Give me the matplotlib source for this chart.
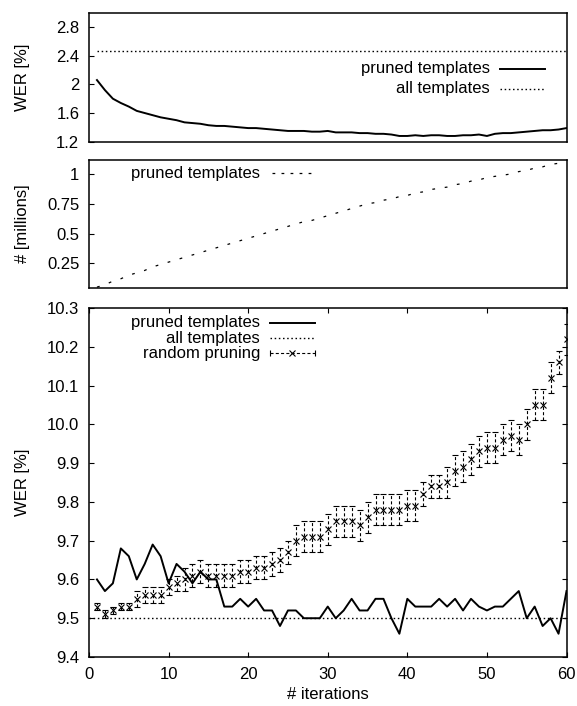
import matplotlib
matplotlib.use("Agg")
import matplotlib.pyplot as plt
from matplotlib.lines import Line2D
import numpy as np

plt.rcParams['font.family'] = ['Liberation Sans', 'DejaVu Sans']
plt.rcParams['lines.scale_dashes'] = False

iterations = list(range(1, 61))

# top panel: WER of pruned templates (dev)
top_pruned = [2.06, 1.92, 1.80, 1.74, 1.69, 1.63, 1.60, 1.57, 1.54, 1.52,
              1.50, 1.47, 1.46, 1.45, 1.43, 1.42, 1.42, 1.41, 1.40, 1.39,
              1.39, 1.38, 1.37, 1.36, 1.35, 1.35, 1.35, 1.34, 1.34, 1.35,
              1.33, 1.33, 1.33, 1.32, 1.32, 1.31, 1.31, 1.30, 1.28, 1.28,
              1.29, 1.28, 1.29, 1.29, 1.28, 1.28, 1.29, 1.29, 1.30, 1.28,
              1.31, 1.32, 1.32, 1.33, 1.34, 1.35, 1.36, 1.36, 1.37, 1.39]
top_all = 2.46

# middle panel: number of templates [millions]
n_templates = [0.05, 0.07, 0.10, 0.12, 0.15, 0.17, 0.19, 0.22, 0.24, 0.26,
               0.28, 0.30, 0.32, 0.34, 0.36, 0.38, 0.40, 0.42, 0.44, 0.46,
               0.48, 0.50, 0.52, 0.54, 0.56, 0.58, 0.60, 0.61, 0.63, 0.65,
               0.67, 0.69, 0.71, 0.73, 0.75, 0.76, 0.78, 0.79, 0.81, 0.82,
               0.84, 0.85, 0.87, 0.88, 0.89, 0.91, 0.92, 0.94, 0.95, 0.97,
               0.98, 0.99, 1.00, 1.02, 1.03, 1.05, 1.06, 1.08, 1.09, 1.11]

# bottom panel: WER (test)
bot_pruned = [9.60, 9.57, 9.59, 9.68, 9.66, 9.60, 9.64, 9.69, 9.66, 9.59,
              9.64, 9.62, 9.59, 9.62, 9.60, 9.60, 9.53, 9.53, 9.55, 9.53,
              9.55, 9.52, 9.52, 9.48, 9.52, 9.52, 9.50, 9.50, 9.50, 9.53,
              9.50, 9.52, 9.55, 9.52, 9.52, 9.55, 9.55, 9.50, 9.46, 9.55,
              9.53, 9.53, 9.53, 9.55, 9.53, 9.55, 9.52, 9.55, 9.53, 9.52,
              9.53, 9.53, 9.55, 9.57, 9.50, 9.53, 9.48, 9.50, 9.46, 9.57]
bot_all = 9.50
random_mean = [9.53, 9.51, 9.52, 9.53, 9.53, 9.55, 9.56, 9.56, 9.56, 9.58,
               9.59, 9.60, 9.61, 9.62, 9.61, 9.61, 9.61, 9.61, 9.62, 9.62,
               9.63, 9.63, 9.64, 9.65, 9.67, 9.70, 9.71, 9.71, 9.71, 9.73,
               9.75, 9.75, 9.75, 9.74, 9.76, 9.78, 9.78, 9.78, 9.78, 9.79,
               9.79, 9.82, 9.84, 9.84, 9.85, 9.88, 9.89, 9.91, 9.93, 9.94,
               9.94, 9.96, 9.97, 9.96, 10.00, 10.05, 10.05, 10.12, 10.16, 10.22]
random_err = [0.01, 0.01, 0.01, 0.01, 0.01, 0.02, 0.02, 0.02, 0.02, 0.02,
              0.02, 0.03, 0.03, 0.03, 0.03, 0.03, 0.03, 0.03, 0.03, 0.03,
              0.03, 0.03, 0.03, 0.03, 0.03, 0.04, 0.04, 0.04, 0.04, 0.04,
              0.04, 0.04, 0.04, 0.04, 0.04, 0.04, 0.04, 0.04, 0.04, 0.04,
              0.04, 0.03, 0.03, 0.03, 0.04, 0.04, 0.04, 0.04, 0.04, 0.04,
              0.04, 0.04, 0.04, 0.04, 0.04, 0.04, 0.04, 0.04, 0.03, 0.04]

top_yticks = [1.2, 1.6, 2.0, 2.4, 2.8]
top_ylabels = ['1.2', '1.6', '2', '2.4', '2.8']
mid_yticks = [0.25, 0.5, 0.75, 1.0]
mid_ylabels = ['0.25', '0.5', '0.75', '1']
bot_yticks = [9.4, 9.5, 9.6, 9.7, 9.8, 9.9, 10.0, 10.1, 10.2, 10.3]
bot_ylabels = ['9.4', '9.5', '9.6', '9.7', '9.8', '9.9', '10.0', '10.1', '10.2', '10.3']
bot_xticks = [0, 10, 20, 30, 40, 50, 60]

W, H = 577, 706
fig = plt.figure(figsize=(W / 100, H / 100), dpi=100)
left = 89 / W
width = (566.5 - 89) / W

def ax_at(top_px, bot_px):
    return fig.add_axes([left, 1 - bot_px / H, width, (bot_px - top_px) / H])

ax1 = ax_at(12.7, 141.7)
ax2 = ax_at(159.7, 287.7)
ax3 = ax_at(308, 657)

FS = 12
dotted = (0, (1.1, 1.9))
for ax in (ax1, ax2, ax3):
    for s in ax.spines.values():
        s.set_linewidth(1.1)
    ax.set_xlim(0, 60)
    ax.tick_params(direction='in', length=3.6, width=0.8, labelsize=FS, pad=7)

# top panel
ax1.plot(iterations, top_pruned, color='black', lw=1.4)
ax1.axhline(top_all, color='black', lw=1.0, linestyle=dotted,
            xmin=1 / 60, xmax=1.0)
ax1.set_ylim(1.2, 3.0)
ax1.set_yticks(top_yticks)
ax1.set_yticklabels(top_ylabels)
ax1.set_xticks([])
ax1.set_ylabel('WER [%]', fontsize=FS)
ax1.yaxis.set_label_coords(-0.124, 0.5)
# legend (gnuplot style: right-aligned text, sample to right)
ax1.text(0.84, 0.564, 'pruned templates', transform=ax1.transAxes,
         ha='right', va='center', fontsize=FS)
ax1.add_line(Line2D([0.861, 0.955], [0.564, 0.564], transform=ax1.transAxes,
                    color='black', lw=1.4))
ax1.text(0.84, 0.409, 'all templates', transform=ax1.transAxes,
         ha='right', va='center', fontsize=FS)
ax1.add_line(Line2D([0.861, 0.955], [0.409, 0.409], transform=ax1.transAxes,
                    color='black', lw=1.0, linestyle=dotted))

# middle panel
dashed_mid = (0, (2.0, 7.0))
ax2.plot(iterations, n_templates, color='black', lw=0.9, linestyle=dashed_mid)
ax2.set_ylim(0.045, 1.12)
ax2.set_yticks(mid_yticks)
ax2.set_yticklabels(mid_ylabels)
ax2.set_xticks([])
ax2.set_ylabel('# [millions]', fontsize=FS)
ax2.yaxis.set_label_coords(-0.124, 0.5)
ax2.text(0.358, 0.894, 'pruned templates', transform=ax2.transAxes,
         ha='right', va='center', fontsize=FS)
ax2.add_line(Line2D([0.383, 0.473], [0.894, 0.894], transform=ax2.transAxes,
                    color='black', lw=0.9, linestyle=(0, (2.0, 4.5))))

# bottom panel
ax3.plot(iterations, bot_pruned, color='black', lw=1.4)
ax3.axhline(bot_all, color='black', lw=1.0, linestyle=dotted)
eb = ax3.errorbar(iterations, random_mean, yerr=random_err, fmt='x',
                  color='black', ms=4.5, mew=0.8, elinewidth=0.8,
                  capsize=2.2, capthick=0.8)
for lc in eb[2]:
    lc.set_linestyle((0, (2.2, 1.6)))
ax3.set_ylim(9.4, 10.3)
ax3.set_yticks(bot_yticks)
ax3.set_yticklabels(bot_ylabels)
ax3.set_xticks(bot_xticks)
ax3.tick_params(top=True, right=True)
ax3.set_ylabel('WER [%]', fontsize=FS)
ax3.yaxis.set_label_coords(-0.124, 0.5)
ax3.set_xlabel('# iterations', fontsize=FS, labelpad=4)

rows = [0.958, 0.913, 0.870]
labels = ['pruned templates', 'all templates', 'random pruning']
for y, lab in zip(rows, labels):
    ax3.text(0.358, y, lab, transform=ax3.transAxes, ha='right', va='center',
             fontsize=FS)
ax3.add_line(Line2D([0.379, 0.473], [rows[0]] * 2, transform=ax3.transAxes,
                    color='black', lw=1.4))
ax3.add_line(Line2D([0.379, 0.473], [rows[1]] * 2, transform=ax3.transAxes,
                    color='black', lw=1.0, linestyle=dotted))
ax3.add_line(Line2D([0.379, 0.473], [rows[2]] * 2, transform=ax3.transAxes,
                    color='black', lw=0.8, linestyle=(0, (2.2, 1.6))))
ax3.add_line(Line2D([0.379, 0.426, 0.473], [rows[2]] * 3, transform=ax3.transAxes,
                    color='black', lw=0, marker='x', ms=4.5, mew=0.8,
                    markevery=[1]))
ax3.add_line(Line2D([0.379, 0.473], [rows[2]] * 2, transform=ax3.transAxes,
                    color='black', lw=0, marker='|', ms=4.5, mew=0.8))

fig.savefig('out.png', dpi=100)
